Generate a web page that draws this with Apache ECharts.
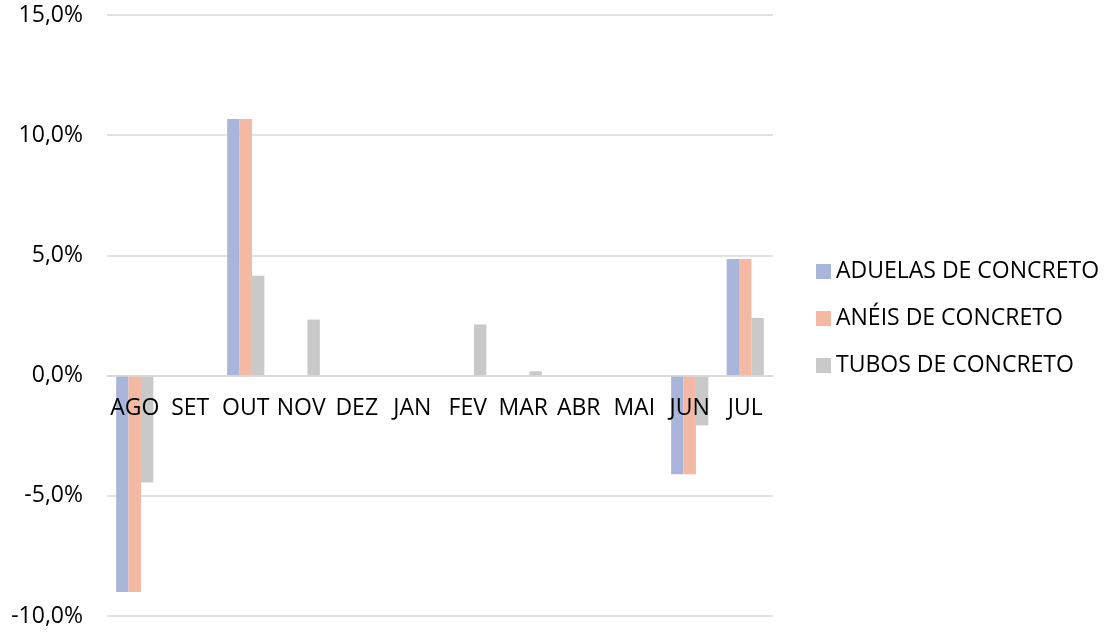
<!DOCTYPE html>
<html>
<head>
<meta charset="utf-8">
<script src="https://cdn.jsdelivr.net/npm/echarts@6/dist/echarts.min.js"></script>
<style>
  html, body { margin: 0; padding: 0; background: #fff; }
  #chart { width: 1104px; height: 632px; }
</style>
</head>
<body>
<div id="chart"></div>
<script>
// meses
var months = ["AGO", "SET", "OUT", "NOV", "DEZ", "JAN", "FEV", "MAR", "ABR", "MAI", "JUN", "JUL"];
// variação mensal (%)
var aduelas = [-9.0, 0, 10.67, 0, 0, 0, 0, 0, 0, 0, -4.1, 4.85];
var aneis = [-9.0, 0, 10.67, 0, 0, 0, 0, 0, 0, 0, -4.1, 4.85];
var tubos = [-4.45, 0, 4.15, 2.33, 0, 0, 2.13, 0.18, 0, 0, -2.07, 2.4];

var chart = echarts.init(document.getElementById("chart"));

var fontFam = "'Open Sans', 'Noto Sans', sans-serif";
var gridTop = 15, gridBottom = 16, yMin = -10, yMax = 15;
// deslocamento do eixo X até a linha do zero
var plotH = 632 - gridTop - gridBottom;
var zeroOffset = -plotH * (0 - yMin) / (yMax - yMin);

var option = {
  animation: false,
  textStyle: { fontFamily: fontFam },
  grid: {
    left: 107,
    right: 331,
    top: gridTop,
    bottom: gridBottom
  },
  legend: {
    orient: "vertical",
    left: 811,
    top: 255,
    itemWidth: 15,
    itemHeight: 15,
    itemGap: 24,
    icon: "rect",
    textStyle: { fontSize: 23, color: "#000", fontFamily: fontFam },
    data: ["ADUELAS DE CONCRETO", "ANÉIS DE CONCRETO", "TUBOS DE CONCRETO"]
  },
  xAxis: {
    type: "category",
    data: months,
    z: 10,
    offset: zeroOffset,
    axisLine: { onZero: false, lineStyle: { color: "#D9D9D9", width: 1.5 } },
    axisTick: { show: false },
    axisLabel: { fontSize: 23, color: "#000", margin: 21, interval: 0 }
  },
  yAxis: {
    type: "value",
    min: yMin,
    max: yMax,
    interval: 5,
    axisLine: { show: false },
    axisTick: { show: false },
    splitLine: { lineStyle: { color: "#D9D9D9", width: 1.5 } },
    axisLabel: {
      fontSize: 23,
      color: "#000",
      margin: 24,
      formatter: function (v) { return v.toFixed(1).replace(".", ",") + "%"; }
    }
  },
  series: [
    {
      name: "ADUELAS DE CONCRETO",
      type: "bar",
      barGap: "0%",
      barCategoryGap: "33%",
      itemStyle: { color: "#A9B5DA" },
      data: aduelas
    },
    {
      name: "ANÉIS DE CONCRETO",
      type: "bar",
      itemStyle: { color: "#F4B9A2" },
      data: aneis
    },
    {
      name: "TUBOS DE CONCRETO",
      type: "bar",
      itemStyle: { color: "#C9C9C9" },
      data: tubos
    }
  ]
};
chart.setOption(option);
</script>
</body>
</html>
